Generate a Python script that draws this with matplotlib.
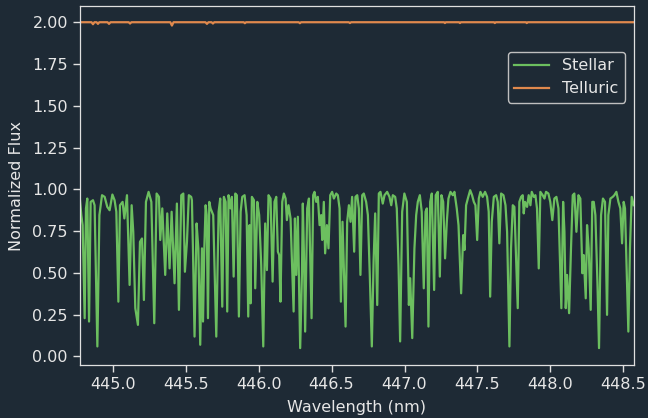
import matplotlib
matplotlib.use("Agg")
import matplotlib.pyplot as plt
import numpy as np

# Stellar spectrum (wavelength in nm, normalized flux)
stellar_wave = [
    444.774, 444.785, 444.794, 444.808, 444.817, 444.826, 444.838, 444.849, 444.865, 444.876,
    444.895, 444.909, 444.927, 444.945, 444.963, 444.979, 444.998, 445.013, 445.025, 445.039,
    445.050, 445.068, 445.080, 445.098, 445.116, 445.130, 445.141, 445.155, 445.173, 445.187,
    445.201, 445.214, 445.228, 445.246, 445.265, 445.285, 445.301, 445.317, 445.326, 445.340,
    445.360, 445.374, 445.390, 445.404, 445.424, 445.440, 445.454, 445.470, 445.484, 445.495,
    445.509, 445.522, 445.538,
    445.543, 445.550, 445.561, 445.575, 445.587, 445.600, 445.612, 445.619, 445.628, 445.637,
    445.644, 445.653, 445.662, 445.671, 445.689, 445.710, 445.726, 445.737, 445.751, 445.762,
    445.774, 445.785, 445.794, 445.808, 445.817, 445.829, 445.840, 445.851, 445.865, 445.877,
    445.888, 445.904, 445.918, 445.929, 445.938, 445.945, 445.954, 445.968, 445.977, 445.991,
    446.004, 446.018, 446.032, 446.045, 446.057, 446.068, 446.082, 446.096, 446.109, 446.121,
    446.132, 446.141, 446.150, 446.162, 446.173, 446.185, 446.194, 446.205, 446.219, 446.240,
    446.249, 446.258, 446.269, 446.285, 446.297,
    446.303, 446.310, 446.319, 446.333, 446.345, 446.363, 446.374, 446.383, 446.395, 446.406,
    446.418, 446.429, 446.436, 446.447, 446.456, 446.468, 446.479, 446.491, 446.504, 446.516,
    446.532, 446.543, 446.555, 446.564, 446.575, 446.596, 446.607, 446.619, 446.630, 446.641,
    446.655, 446.664, 446.676, 446.687, 446.698, 446.710, 446.721, 446.737, 446.749, 446.762,
    446.776, 446.788, 446.799, 446.813, 446.824, 446.835, 446.851, 446.863, 446.881, 446.897,
    446.909, 446.920, 446.936, 446.947, 446.959, 446.970, 446.984, 446.999, 447.016, 447.030,
    447.039, 447.053,
    447.068, 447.080, 447.091, 447.105, 447.118, 447.132, 447.144, 447.153, 447.164, 447.176,
    447.187, 447.203, 447.214, 447.228, 447.242, 447.253, 447.265, 447.278, 447.290, 447.301,
    447.315, 447.331, 447.342, 447.358, 447.370, 447.388, 447.402, 447.411, 447.422, 447.434,
    447.450, 447.463, 447.475, 447.486, 447.498, 447.509, 447.520, 447.536, 447.552, 447.566,
    447.577, 447.587, 447.598, 447.612, 447.628, 447.639, 447.650, 447.662, 447.678, 447.692,
    447.703, 447.719, 447.730, 447.742, 447.753, 447.776, 447.787,
    447.799, 447.810, 447.817, 447.826, 447.840, 447.851, 447.863, 447.872, 447.886, 447.897,
    447.908, 447.920, 447.931, 447.947, 447.959, 447.970, 447.986, 447.999, 448.013, 448.027,
    448.041, 448.055, 448.075, 448.087, 448.096, 448.105, 448.114, 448.128, 448.141, 448.153,
    448.164, 448.178, 448.192, 448.205, 448.219, 448.228, 448.242, 448.251, 448.262, 448.276,
    448.287, 448.297, 448.308, 448.322, 448.333, 448.347, 448.360, 448.374, 448.388, 448.397,
    448.411, 448.427, 448.438, 448.452, 448.466, 448.479, 448.491, 448.502, 448.511, 448.534,
    448.545, 448.557, 448.571,
]
stellar_flux = [
    0.955, 0.846, 0.786, 0.229, 0.886, 0.945, 0.209, 0.925, 0.935, 0.905,
    0.060, 0.846, 0.965, 0.955, 0.895, 0.875, 0.969, 0.935, 0.866, 0.328,
    0.905, 0.925, 0.826, 0.965, 0.428, 0.905, 0.746, 0.289, 0.189, 0.686,
    0.706, 0.338, 0.925, 0.985, 0.925, 0.199, 0.975, 0.955, 0.697, 0.886,
    0.488, 0.856, 0.527, 0.866, 0.438, 0.915, 0.279, 0.965, 0.975, 0.507,
    0.686, 0.965, 0.955,
    0.935, 0.647, 0.119, 0.796, 0.647, 0.070, 0.647, 0.209, 0.647, 0.905,
    0.846, 0.229, 0.925, 0.886, 0.846, 0.119, 0.866, 0.945, 0.298, 0.955,
    0.925, 0.269, 0.965, 0.886, 0.955, 0.478, 0.975, 0.965, 0.239, 0.866,
    0.955, 0.965, 0.846, 0.239, 0.786, 0.318, 0.955, 0.935, 0.408, 0.925,
    0.846, 0.547, 0.060, 0.796, 0.517, 0.965, 0.945, 0.448, 0.925, 0.955,
    0.627, 0.607, 0.328, 0.925, 0.975, 0.945, 0.816, 0.905, 0.826, 0.269,
    0.826, 0.488, 0.836, 0.050, 0.488,
    0.915, 0.647, 0.149, 0.886, 0.945, 0.229, 0.965, 0.985, 0.925, 0.955,
    0.786, 0.846, 0.697, 0.925, 0.617, 0.786, 0.647, 0.965, 0.985, 0.945,
    0.975, 0.965, 0.886, 0.328, 0.806, 0.179, 0.806, 0.905, 0.806, 0.955,
    0.627, 0.955, 0.965, 0.886, 0.488, 0.965, 0.975, 0.925, 0.846, 0.488,
    0.060, 0.567, 0.856, 0.308, 0.975, 0.985, 0.915, 0.965, 0.985, 0.955,
    0.905, 0.965, 0.955, 0.886, 0.547, 0.090, 0.866, 0.975, 0.925, 0.308,
    0.468, 0.110,
    0.647, 0.846, 0.925, 0.965, 0.866, 0.408, 0.866, 0.886, 0.179, 0.925,
    0.975, 0.398, 0.965, 0.985, 0.478, 0.965, 0.925, 0.587, 0.806, 0.945,
    0.985, 0.965, 0.985, 0.886, 0.786, 0.378, 0.726, 0.637, 0.905, 0.945,
    0.995, 0.965, 0.925, 0.905, 0.697, 0.945, 0.985, 0.955, 0.985, 0.955,
    0.866, 0.358, 0.806, 0.955, 0.965, 0.925, 0.677, 0.975, 0.965, 0.905,
    0.746, 0.060, 0.647, 0.905, 0.895, 0.289, 0.925,
    0.955, 0.965, 0.856, 0.925, 0.895, 0.965, 0.905, 0.985, 0.955, 0.965,
    0.886, 0.527, 0.985, 0.965, 0.945, 0.985, 0.975, 0.925, 0.816, 0.945,
    0.955, 0.886, 0.289, 0.925, 0.746, 0.289, 0.488, 0.259, 0.647, 0.965,
    0.975, 0.746, 0.965, 0.945, 0.498, 0.607, 0.348, 0.786, 0.647, 0.279,
    0.925, 0.925, 0.846, 0.448, 0.050, 0.846, 0.945, 0.925, 0.249, 0.846,
    0.945, 0.955, 0.965, 0.985, 0.925, 0.886, 0.677, 0.925, 0.886, 0.149,
    0.647, 0.955, 0.905,
]

# Telluric transmission (offset to sit at 2.0)
telluric_wave = [
    444.774, 444.855, 444.865, 444.875, 444.890, 444.899, 444.908, 444.965, 444.975, 444.985,
    445.110, 445.119, 445.128, 445.395, 445.406, 445.417, 445.636, 445.646, 445.656, 445.678,
    445.687, 445.696, 445.898, 445.906, 445.914, 446.275, 446.283, 446.291, 446.618, 446.626,
    446.634, 447.270, 447.277, 447.284, 447.373, 447.380, 447.387, 447.612, 447.619, 447.626,
    447.831, 447.838, 447.845, 448.571,
]
telluric_flux = [
    2.000, 2.000, 1.988, 2.000, 2.000, 1.990, 2.000, 2.000, 1.990, 2.000,
    2.000, 1.992, 2.000, 2.000, 1.980, 2.000, 2.000, 1.990, 2.000, 2.000,
    1.992, 2.000, 2.000, 1.994, 2.000, 2.000, 1.994, 2.000, 2.000, 1.995,
    2.000, 2.000, 1.995, 2.000, 2.000, 1.995, 2.000, 2.000, 1.995, 2.000,
    2.000, 1.995, 2.000, 2.000,
]

xticks = [445.0, 445.5, 446.0, 446.5, 447.0, 447.5, 448.0, 448.5]
yticks = [0.00, 0.25, 0.50, 0.75, 1.00, 1.25, 1.50, 1.75, 2.00]

BG = "#1e2a35"
FG = "#e6e6e6"
SPINE = "#e0e0e0"
GREEN = "#6cbf5f"
ORANGE = "#e0894d"
FS = 11.5

plt.rcParams["font.family"] = ["DejaVu Sans"]

fig = plt.figure(figsize=(6.48, 4.18), dpi=100, facecolor=BG)
ax = fig.add_axes([0.123, 0.126, 0.855, 0.860], facecolor=BG)

ax.plot(stellar_wave, stellar_flux, color=GREEN, lw=1.6, label="Stellar")
ax.plot(telluric_wave, telluric_flux, color=ORANGE, lw=1.6, label="Telluric")

ax.set_xlim(stellar_wave[0], stellar_wave[-1])
ax.set_ylim(-0.053, 2.098)
ax.set_xticks(xticks)
ax.set_xticklabels([f"{t:.1f}" for t in xticks])
ax.set_yticks(yticks)
ax.set_yticklabels([f"{t:.2f}" for t in yticks])

ax.set_xlabel("Wavelength (nm)", color=FG, fontsize=FS, labelpad=6)
ax.set_ylabel("Normalized Flux", color=FG, fontsize=FS, labelpad=6)
ax.tick_params(colors=FG, labelsize=FS, length=5, width=1, color=SPINE, pad=3.5)
for s in ax.spines.values():
    s.set_color(SPINE)
    s.set_linewidth(0.9)

leg = ax.legend(loc="upper right", bbox_to_anchor=(0.984, 0.872), borderaxespad=0,
                fontsize=FS, frameon=True, facecolor=BG, edgecolor="#bfbfbf",
                framealpha=1.0, fancybox=True, handlelength=2.2)
for t in leg.get_texts():
    t.set_color(FG)

fig.savefig("out.png", dpi=100, facecolor=BG)
